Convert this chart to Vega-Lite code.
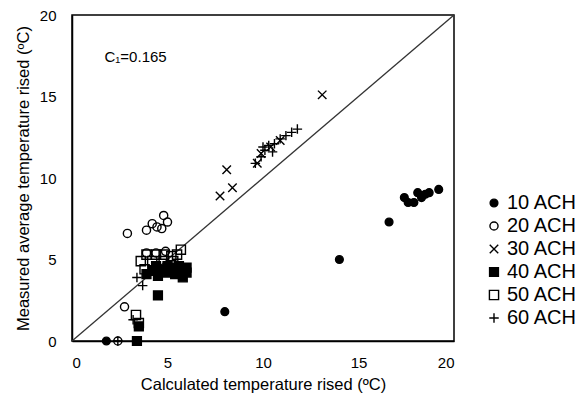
{
  "$schema": "https://vega.github.io/schema/vega-lite/v6.json",
  "width": 382,
  "height": 326,
  "autosize": {"type": "none"},
  "padding": {"left": 72, "top": 15, "right": 128, "bottom": 57},
  "background": "white",
  "config": {
    "font": "Liberation Sans",
    "view": {"stroke": "black", "strokeWidth": 1.5},
    "axis": {"grid": false, "ticks": false, "domainColor": "black", "domainWidth": 1.5, "labelColor": "black", "titleColor": "black", "labelOverlap": false, "labelBound": false}
  },
  "encoding": {
    "x": {"field": "x", "type": "quantitative", "scale": {"domain": [0, 20], "nice": false},
      "axis": {"title": "Calculated temperature rised (ºC)", "values": [0,5,10,15,20], "labelPadding": 14, "labelFontSize": 15, "titleFontSize": 16.5, "titleFontWeight": "normal", "titlePadding": 6}},
    "y": {"field": "y", "type": "quantitative", "scale": {"domain": [0, 20], "nice": false},
      "axis": {"title": "Measured average temperature rised (ºC)", "values": [0,5,10,15,20], "labelPadding": 16, "labelFontSize": 15, "titleFontSize": 16.5, "titleFontWeight": "normal", "titlePadding": 8}}
  },
  "layer": [
    {
      "data": {"values": [{"x": 1}, {"x": 2}, {"x": 3}, {"x": 4}, {"x": 5}, {"x": 6}, {"x": 7}, {"x": 8}, {"x": 9}, {"x": 10}, {"x": 11}, {"x": 12}, {"x": 13}, {"x": 14}, {"x": 15}, {"x": 16}, {"x": 17}, {"x": 18}, {"x": 19}]},
      "mark": {"type": "rule", "color": "black", "strokeWidth": 1},
      "encoding": {
        "x": {"field": "x", "type": "quantitative"},
        "y": {"datum": 0},
        "y2": {"datum": 0.3}
      }
    },
    {
      "data": {"values": [{"y": 1}, {"y": 2}, {"y": 3}, {"y": 4}, {"y": 5}, {"y": 6}, {"y": 7}, {"y": 8}, {"y": 9}, {"y": 10}, {"y": 11}, {"y": 12}, {"y": 13}, {"y": 14}, {"y": 15}, {"y": 16}, {"y": 17}, {"y": 18}, {"y": 19}]},
      "mark": {"type": "rule", "color": "black", "strokeWidth": 1},
      "encoding": {
        "y": {"field": "y", "type": "quantitative"},
        "x": {"datum": 0},
        "x2": {"datum": 0.25}
      }
    },
    {
      "data": {"values": [{"x": 0, "y": 0}, {"x": 20, "y": 20}]},
      "mark": {"type": "line", "color": "#333", "strokeWidth": 1.3}
    },
    {
      "data": {"values": [{"x": 1.7, "y": 17.4, "t": "C₁=0.165"}]},
      "mark": {"type": "text", "align": "left", "baseline": "middle", "fontSize": 15, "color": "black"},
      "encoding": {
        "text": {"field": "t"}
      }
    },
    {
      "data": {"values": [
        {"x": 1.8, "y": 0, "s": "10 ACH"}, {"x": 8.0, "y": 1.8, "s": "10 ACH"}, {"x": 14.0, "y": 5.0, "s": "10 ACH"}, {"x": 16.6, "y": 7.3, "s": "10 ACH"},
        {"x": 17.4, "y": 8.8, "s": "10 ACH"}, {"x": 17.6, "y": 8.5, "s": "10 ACH"}, {"x": 17.9, "y": 8.5, "s": "10 ACH"}, {"x": 18.1, "y": 9.1, "s": "10 ACH"},
        {"x": 18.3, "y": 8.8, "s": "10 ACH"}, {"x": 18.5, "y": 9.0, "s": "10 ACH"}, {"x": 18.7, "y": 9.1, "s": "10 ACH"}, {"x": 19.2, "y": 9.3, "s": "10 ACH"},
        {"x": 2.4, "y": 0, "s": "20 ACH"}, {"x": 2.75, "y": 2.1, "s": "20 ACH"}, {"x": 2.9, "y": 6.6, "s": "20 ACH"}, {"x": 3.9, "y": 6.8, "s": "20 ACH"},
        {"x": 4.2, "y": 7.2, "s": "20 ACH"}, {"x": 4.45, "y": 7.0, "s": "20 ACH"}, {"x": 4.7, "y": 6.9, "s": "20 ACH"}, {"x": 4.8, "y": 7.7, "s": "20 ACH"},
        {"x": 5.0, "y": 7.3, "s": "20 ACH"}, {"x": 3.9, "y": 5.4, "s": "20 ACH"}, {"x": 4.4, "y": 5.4, "s": "20 ACH"}, {"x": 4.9, "y": 5.5, "s": "20 ACH"},
        {"x": 7.75, "y": 8.9, "s": "30 ACH"}, {"x": 8.1, "y": 10.5, "s": "30 ACH"}, {"x": 8.4, "y": 9.4, "s": "30 ACH"}, {"x": 9.7, "y": 10.9, "s": "30 ACH"},
        {"x": 9.9, "y": 11.5, "s": "30 ACH"}, {"x": 10.4, "y": 11.9, "s": "30 ACH"}, {"x": 10.9, "y": 12.3, "s": "30 ACH"}, {"x": 13.1, "y": 15.1, "s": "30 ACH"},
        {"x": 3.4, "y": 0, "s": "40 ACH"}, {"x": 3.5, "y": 0.9, "s": "40 ACH"}, {"x": 4.5, "y": 2.8, "s": "40 ACH"}, {"x": 3.9, "y": 4.1, "s": "40 ACH"},
        {"x": 4.2, "y": 4.3, "s": "40 ACH"}, {"x": 4.5, "y": 4.0, "s": "40 ACH"}, {"x": 4.7, "y": 4.4, "s": "40 ACH"}, {"x": 5.0, "y": 4.2, "s": "40 ACH"},
        {"x": 5.2, "y": 4.5, "s": "40 ACH"}, {"x": 5.4, "y": 4.1, "s": "40 ACH"}, {"x": 5.7, "y": 4.3, "s": "40 ACH"}, {"x": 5.8, "y": 3.9, "s": "40 ACH"},
        {"x": 6.0, "y": 4.5, "s": "40 ACH"}, {"x": 6.0, "y": 4.2, "s": "40 ACH"}, {"x": 4.4, "y": 4.6, "s": "40 ACH"}, {"x": 5.0, "y": 4.6, "s": "40 ACH"},
        {"x": 5.6, "y": 4.6, "s": "40 ACH"},
        {"x": 3.35, "y": 1.6, "s": "50 ACH"}, {"x": 3.5, "y": 1.1, "s": "50 ACH"}, {"x": 3.6, "y": 4.9, "s": "50 ACH"}, {"x": 3.9, "y": 5.3, "s": "50 ACH"},
        {"x": 4.4, "y": 5.3, "s": "50 ACH"}, {"x": 4.8, "y": 5.3, "s": "50 ACH"}, {"x": 5.2, "y": 5.2, "s": "50 ACH"}, {"x": 5.5, "y": 5.3, "s": "50 ACH"},
        {"x": 5.7, "y": 5.6, "s": "50 ACH"}, {"x": 4.2, "y": 4.9, "s": "50 ACH"}, {"x": 4.8, "y": 4.9, "s": "50 ACH"}, {"x": 5.3, "y": 4.9, "s": "50 ACH"},
        {"x": 3.8, "y": 4.4, "s": "50 ACH"},
        {"x": 2.4, "y": 0, "s": "60 ACH"}, {"x": 3.2, "y": 1.3, "s": "60 ACH"}, {"x": 3.4, "y": 3.9, "s": "60 ACH"}, {"x": 3.7, "y": 3.4, "s": "60 ACH"},
        {"x": 9.6, "y": 10.9, "s": "60 ACH"}, {"x": 9.9, "y": 11.3, "s": "60 ACH"}, {"x": 10.1, "y": 11.7, "s": "60 ACH"}, {"x": 10.3, "y": 12.0, "s": "60 ACH"},
        {"x": 10.6, "y": 12.1, "s": "60 ACH"}, {"x": 10.9, "y": 12.4, "s": "60 ACH"}, {"x": 11.2, "y": 12.6, "s": "60 ACH"}, {"x": 11.5, "y": 12.8, "s": "60 ACH"},
        {"x": 11.8, "y": 13.0, "s": "60 ACH"}, {"x": 10.0, "y": 11.9, "s": "60 ACH"}, {"x": 10.5, "y": 11.6, "s": "60 ACH"}
      ]},
      "mark": {"type": "point", "strokeWidth": 1.4, "opacity": 1},
      "encoding": {
        "shape": {"field": "s", "type": "nominal",
          "scale": {"domain": ["10 ACH", "20 ACH", "30 ACH", "40 ACH", "50 ACH", "60 ACH"],
            "range": ["circle", "circle", "M-1,-1L1,1M-1,1L1,-1", "square", "square", "M-1,0L1,0M0,-1L0,1"]},
          "legend": {"title": null, "orient": "none", "legendX": 412, "legendY": 178, "labelFontSize": 20, "labelColor": "black", "rowPadding": 3, "labelOffset": 3, "symbolStrokeWidth": 1.4}},
        "stroke": {"field": "s", "type": "nominal",
          "scale": {"domain": ["10 ACH", "20 ACH", "30 ACH", "40 ACH", "50 ACH", "60 ACH"],
            "range": ["black", "black", "black", "black", "black", "black"]},
          "legend": {"title": null, "orient": "none", "legendX": 412, "legendY": 178, "labelFontSize": 20, "labelColor": "black", "rowPadding": 3, "labelOffset": 3, "symbolStrokeWidth": 1.4}},
        "fill": {"field": "s", "type": "nominal",
          "scale": {"domain": ["10 ACH", "20 ACH", "30 ACH", "40 ACH", "50 ACH", "60 ACH"],
            "range": ["black", "transparent", "transparent", "black", "transparent", "transparent"]},
          "legend": {"title": null, "orient": "none", "legendX": 412, "legendY": 178, "labelFontSize": 20, "labelColor": "black", "rowPadding": 3, "labelOffset": 3, "symbolStrokeWidth": 1.4}},
        "size": {"field": "s", "type": "nominal",
          "scale": {"domain": ["10 ACH", "20 ACH", "30 ACH", "40 ACH", "50 ACH", "60 ACH"],
            "range": [60, 90, 220, 80, 80, 220]},
          "legend": {"title": null, "orient": "none", "legendX": 412, "legendY": 178, "labelFontSize": 20, "labelColor": "black", "rowPadding": 3, "labelOffset": 3, "symbolStrokeWidth": 1.4}}
      }
    }
  ]
}
